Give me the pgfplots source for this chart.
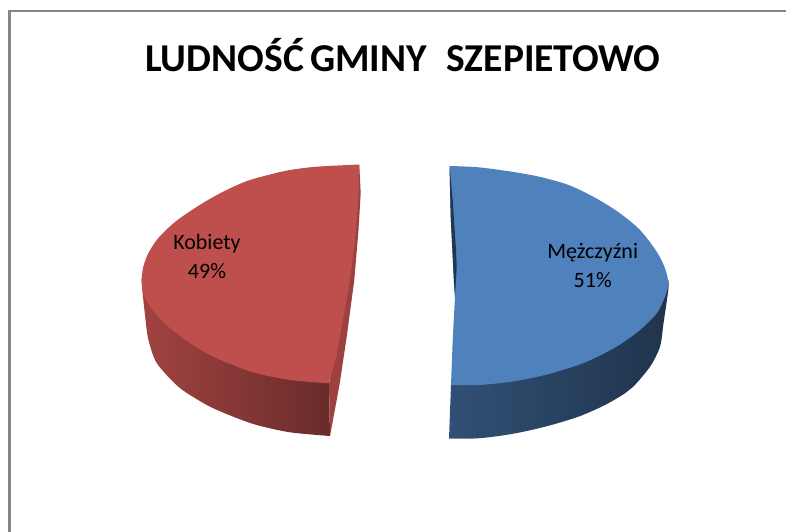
\documentclass[border=0pt]{standalone}
\usepackage{pgfplots}
\pgfplotsset{compat=1.18}
\usepackage{fontspec}
\setmainfont{Carlito}
\definecolor{rtop}{HTML}{BE4F4C}
\definecolor{btop}{HTML}{4F81BD}
\definecolor{frame}{HTML}{868686}
\begin{document}
\begin{tikzpicture}
\path (0,0) rectangle (786pt,532pt);
\begin{axis}[
  width=786pt,height=532pt,scale only axis,
  xmin=0,xmax=786,ymin=0,ymax=532,y dir=reverse,
  axis lines=none,clip=true]
% frame
\addplot[frame,line width=2.5pt,no marks] coordinates {(9.5,532) (9.5,11) (786,11)};
% red wall
\addplot[draw=none,left color=rtop!85!black,right color=rtop!55!black,no marks,smooth,tension=0.5] coordinates {
(141.7,278) (142.3,290) (145,315) (148,338) (155,360) (165,373.3) (178.3,386.7) (190,395) (210,406.7) (233.3,416.7) (256.7,425) (290,432.3) (330,436)} -- (axis cs:329,383) -- (axis cs:280,330) -- cycle;
% red cut face
\addplot[draw=none,fill=rtop!82!black,no marks] coordinates {
(359.3,165) (360.7,193.3) (358.5,230) (354.3,280) (346.7,336.7) (340,381.7) (336.7,400) (330,436) (329,383) (340,330)} -- cycle;
% red top
\addplot[draw=none,fill=rtop,no marks,smooth,tension=0.5] coordinates {
(359.3,164.5) (316.7,166.7) (290,170) (270,174.5) (250,180) (235,186) (215,196) (195,208) (175,222) (158.3,238) (148.3,253.3) (143.3,266.7) (141.7,278.3) (141.7,283.3) (144.3,296.7) (155,313.3) (168.3,326.7) (188.3,342) (208,354) (230,364) (256.7,373.3) (290,380) (328.5,383.3)} -- (axis cs:336.7,355) -- (axis cs:350,280) -- (axis cs:355,240) -- (axis cs:358.3,200) -- cycle;
% blue wall
\addplot[draw=none,left color=btop!62!black,middle color=btop!42!black,right color=btop!40!black,no marks,smooth,tension=0.5] coordinates {
(668.3,280) (668.3,290) (663.5,323.3) (660,346.7) (650,366.7) (633.3,386.7) (625,393.3) (605,405) (578.3,416.7) (545,426.7) (511.7,434) (478.3,438.3) (449,438.5)} -- (axis cs:451,385) -- cycle;
% blue top
\addplot[draw=none,fill=btop,no marks,smooth,tension=0.5] coordinates {
(449.5,166) (478.3,167.3) (511.7,171.7) (538.3,176.5) (564.3,183.5) (580,190) (600,200.5) (620,213.3) (640,230) (656.7,251.7) (665,268.3) (668.3,283.3) (665,296.7) (656.7,313.3) (640,330) (620,344.5) (600,355.5) (578.3,365) (545,375) (511.7,381.7) (478.3,385) (451,385)} -- (axis cs:452.7,340) -- (axis cs:455,296.7) -- (axis cs:454,283.3) -- (axis cs:450.7,216.7) -- cycle;
% blue cut sliver
\addplot[draw=none,fill=btop!42!black,no marks] coordinates {
(449.5,166) (452.7,200) (456,250) (456.7,266.7) (455,296.7) (454,283.3) (450.7,216.7)} -- cycle;
% text
\node[anchor=base west,font=\fontsize{39.5}{39.5}\selectfont\bfseries,inner sep=0pt] at (axis cs:145,72) {LUDNOŚĆ};
\node[anchor=base west,font=\fontsize{39.5}{39.5}\selectfont\bfseries,inner sep=0pt] at (axis cs:310,72) {GMINY};
\node[anchor=base west,font=\fontsize{39.5}{39.5}\selectfont\bfseries,inner sep=0pt] at (axis cs:446,72) {SZEPIETOWO};
\node[anchor=base,font=\fontsize{22}{22}\selectfont,inner sep=0pt] at (axis cs:207,249.3) {Kobiety};
\node[anchor=base,font=\fontsize{22}{22}\selectfont,inner sep=0pt] at (axis cs:207,278.3) {49\%};
\node[anchor=base,font=\fontsize{22}{22}\selectfont,inner sep=0pt] at (axis cs:592.7,258.3) {Mężczyźni};
\node[anchor=base,font=\fontsize{22}{22}\selectfont,inner sep=0pt] at (axis cs:592.7,287.7) {51\%};
\end{axis}
\end{tikzpicture}
\end{document}
